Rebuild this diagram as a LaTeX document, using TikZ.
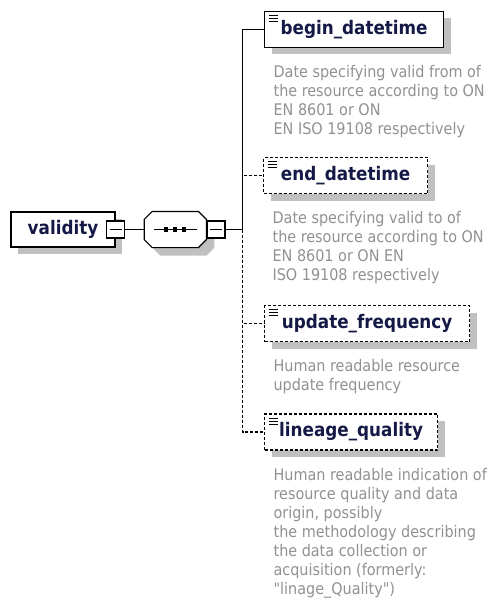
\documentclass[tikz,border=0pt]{standalone}
\usepackage{fontspec}
\setmainfont{DejaVu Sans Condensed}
\usetikzlibrary{positioning, shadows}
\definecolor{labelblue}{RGB}{20,25,70}
\definecolor{docgray}{RGB}{145,145,145}
\definecolor{shadowgray}{RGB}{192,192,192}

\begin{document}
\begin{tikzpicture}[x=0.75pt, y=-0.75pt, line width=0.9pt,
	box/.style={draw, fill=white, inner sep=0pt, minimum height=27pt,
		font=\fontsize{14pt}{17pt}\selectfont\bfseries, text=labelblue,
		general shadow={fill=shadowgray, shadow xshift=5.25pt, shadow yshift=-5.25pt}},
	leaf/.style={box, path picture={
		\foreach \k in {3,5.25,7.5}
			\draw[solid, line width=0.75pt] ([shift={(3pt,-\k pt)}]path picture bounding box.north west) -- ++(6.75pt,0);
	}},
	opt/.style={leaf, dash pattern=on 2.25pt off 1.5pt},
	link/.style={dash pattern=on 2.25pt off 1.5pt},
	minus/.style={draw, fill=white, inner sep=0pt, minimum width=13.5pt, minimum height=12.75pt,
		path picture={\draw[line width=0.75pt] ([xshift=2.25pt]path picture bounding box.west) -- ([xshift=-2.25pt]path picture bounding box.east);}},
	seqbox/.style={inner sep=0pt, minimum width=45.75pt, minimum height=26.25pt},
	seqline/.style={draw, fill=white, general shadow={fill=shadowgray, shadow xshift=6pt, shadow yshift=-6pt}},
	doc/.style={align=left, inner sep=0pt, text=docgray, font=\fontsize{12pt}{14.25pt}\selectfont}
]
	\useasboundingbox (0,0) rectangle (487,599);

	% root and sequence
	\node[box, minimum width=78pt, minimum height=26.25pt] (validity) at (63,229.5) {validity};
	\node[minus] (vminus) at (validity.east) {};
	\node[seqbox, right=14.25pt of vminus] (seq) {};
	\path[seqline] ([xshift=6pt]seq.north west) -- ([xshift=-6pt]seq.north east) -- ([yshift=-6pt]seq.north east)
		-- ([yshift=6pt]seq.south east) -- ([xshift=-6pt]seq.south east) -- ([xshift=6pt]seq.south west)
		-- ([yshift=6pt]seq.south west) -- ([yshift=-6pt]seq.north west) -- cycle;
	\node[minus, anchor=west] (sminus) at (seq.east) {};
	\coordinate[right=12.75pt of sminus] (spine);
	\draw ([xshift=-16.1pt]seq.center) -- ([xshift=16.1pt]seq.center);
	\foreach \d in {-6.75,0,6.75}
		\fill ([xshift=\d pt]seq.center) +(-1.6pt,-1.6pt) rectangle +(1.6pt,1.6pt);

	% child elements
	\node[leaf, minimum width=134.25pt, anchor=west] (bd) at (264,29.5) {begin\_datetime};
	\node[opt, minimum width=123pt, anchor=west] (ed) at (263,175.5) {end\_datetime};
	\node[opt, minimum width=153.75pt, anchor=west] (uf) at (264,323.5) {update\_frequency};
	\node[opt, minimum width=129.75pt, anchor=west] (lq) at (264,432) {lineage\_quality};

	% annotations
	\node[doc, below right=12.75pt and 6.75pt of bd.south west] (bd-doc) {Date specifying valid from of\\the resource according to ON\\EN 8601 or ON\\EN ISO 19108 respectively};
	\node[doc, below right=12.75pt and 6.75pt of ed.south west] (ed-doc) {Date specifying valid to of\\the resource according to ON\\EN 8601 or ON EN\\ISO 19108 respectively};
	\node[doc, below right=12.75pt and 6.75pt of uf.south west] (uf-doc) {Human readable resource\\update frequency};
	\node[doc, below right=12.75pt and 6.75pt of lq.south west] (lq-doc) {Human readable indication of\\resource quality and data\\origin, possibly\\the methodology describing\\the data collection or\\acquisition (formerly:\\\textquotedbl linage\_Quality\textquotedbl)};

	\path
		(vminus) edge (seq)
		(sminus) edge (spine)
		(spine) edge[to path={|- (\tikztotarget)}] (bd)
		(spine) edge[link, to path={|- (\tikztotarget)}] (ed)
		(spine) edge[link, to path={|- (\tikztotarget)}] (uf)
		(spine) edge[link, to path={|- (\tikztotarget)}] (lq)
	;
\end{tikzpicture}
\end{document}
